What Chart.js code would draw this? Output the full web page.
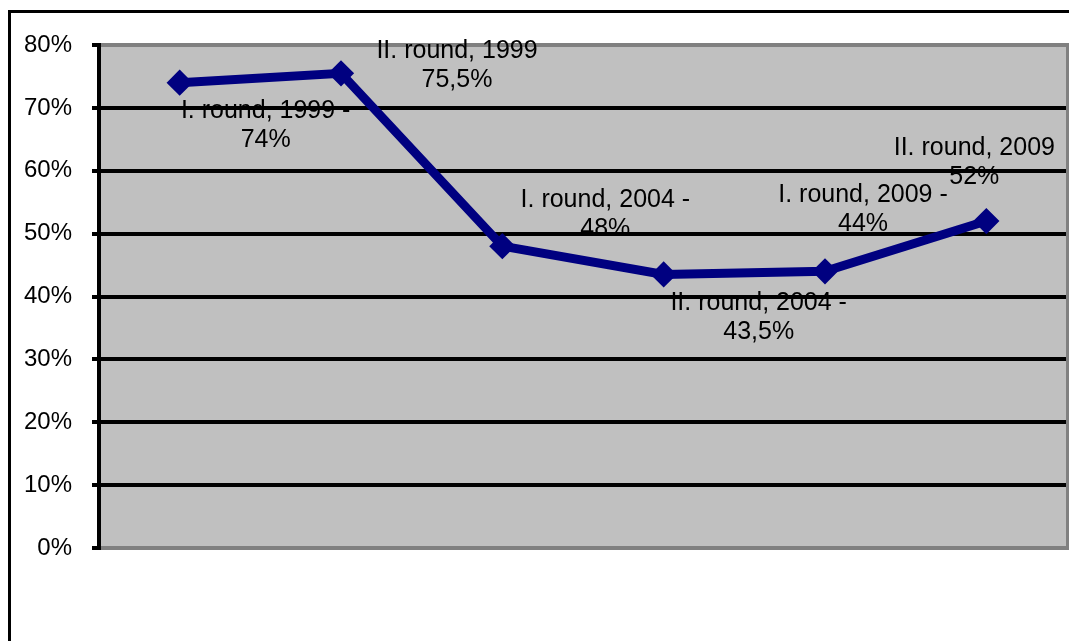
<!DOCTYPE html>
<html>
<head>
<meta charset="utf-8">
<script src="https://cdn.jsdelivr.net/npm/chart.js@4"></script>
<style>
  body { margin: 0; background: #fff; }
</style>
</head>
<body>
<canvas id="lineChart" width="1069" height="641"></canvas>
<script>
const rounds = ['I. round, 1999', 'II. round, 1999', 'I. round, 2004', 'II. round, 2004', 'I. round, 2009', 'II. round, 2009'];
const roundTitles = ['I. round, 1999 -', 'II. round, 1999', 'I. round, 2004 -', 'II. round, 2004 -', 'I. round, 2009 -', 'II. round, 2009'];
const turnout = [74, 75.5, 48, 43.5, 44, 52];
const yTicks = [0, 10, 20, 30, 40, 50, 60, 70, 80];

// where each label sits relative to its point (dx, dy of the first line)
const labelOffsets = [[86, 28], [116, -22], [103, -46], [95, 29], [38, -76], [-12, -73]];

const lineChart = document.getElementById('lineChart');

const plotBox = {
  id: 'plotBox',
  beforeDraw(chart) {
    const c = chart.ctx;
    const a = chart.chartArea;
    c.save();
    c.fillStyle = '#fff';
    c.fillRect(0, 0, chart.width, chart.height);
    c.fillStyle = '#c0c0c0';
    c.fillRect(a.left, a.top, a.right - a.left, a.bottom - a.top);
    // outer frame
    c.strokeStyle = '#000';
    c.lineWidth = 3;
    c.strokeRect(9.5, 11.5, 3000, 3000);
    c.restore();
  },
  beforeDatasetsDraw(chart) {
    const c = chart.ctx;
    const a = chart.chartArea;
    c.save();
    c.strokeStyle = '#808080';
    c.lineWidth = 3;
    c.beginPath();
    c.moveTo(a.right + 0.5, a.top - 2);
    c.lineTo(a.right + 0.5, a.bottom + 2);
    c.stroke();
    c.restore();
  },
  afterDatasetsDraw(chart) {
    const c = chart.ctx;
    const pts = chart.getDatasetMeta(0).data;
    c.save();
    c.font = '25px "Liberation Sans", Arial, sans-serif';
    c.fillStyle = '#000';
    c.textAlign = 'center';
    c.textBaseline = 'middle';
    pts.forEach((p, i) => {
      const [dx, dy] = labelOffsets[i];
      c.fillText(roundTitles[i], p.x + dx, p.y + dy);
      c.fillText(String(turnout[i]).replace('.', ',') + '%', p.x + dx, p.y + dy + 29);
    });
    c.restore();
  }
};

new Chart(lineChart, {
  type: 'line',
  data: {
    labels: rounds,
    datasets: [{
      label: 'Turnout',
      data: turnout,
      borderColor: '#000080',
      backgroundColor: '#000080',
      borderWidth: 9,
      tension: 0,
      pointStyle: 'rectRot',
      pointRadius: 11,
      pointBorderWidth: 3,
      pointBackgroundColor: '#000080',
      pointBorderColor: '#000080'
    }]
  },
  options: {
    responsive: false,
    animation: false,
    layout: { autoPadding: false, padding: { left: 0, top: 45, right: 2, bottom: 93 } },
    plugins: {
      legend: { display: false },
      tooltip: { enabled: false }
    },
    scales: {
      x: {
        type: 'category',
        display: false,
        offset: true
      },
      y: {
        min: 0,
        max: 80,
        afterFit(scale) { scale.width = 99; },
        afterBuildTicks(scale) { scale.ticks = yTicks.map(v => ({ value: v })); },
        border: { display: true, color: '#000', width: 4 },
        grid: {
          color: (c) => (c.tick && (c.tick.value === 0 || c.tick.value === 80)) ? '#808080' : '#000',
          tickColor: '#000',
          lineWidth: 4,
          drawTicks: true,
          tickLength: 7
        },
        ticks: {
          padding: 20,
          color: '#000',
          font: { family: '"Liberation Sans", Arial, sans-serif', size: 24 },
          callback: (v) => v + '%'
        }
      }
    }
  },
  plugins: [plotBox]
});
</script>
</body>
</html>
